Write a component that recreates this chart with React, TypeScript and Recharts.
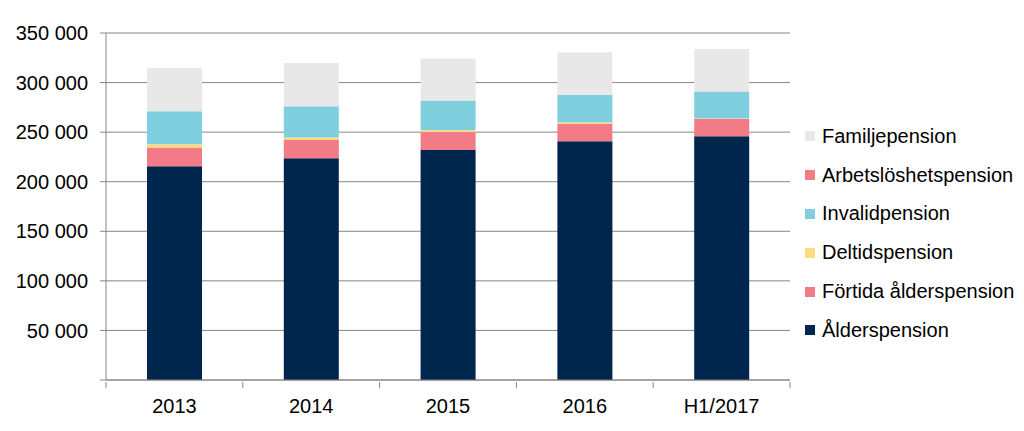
import { Bar, BarChart, CartesianGrid, Legend, XAxis, YAxis } from "recharts"

const years = ["2013", "2014", "2015", "2016", "H1/2017"]
const alderspension = [215500, 223600, 232000, 240800, 245800]
const fortidaAlderspension = [18900, 18500, 18200, 17500, 17400]
const deltidspension = [3300, 2400, 1700, 1400, 500]
const invalidpension = [33400, 31700, 30000, 28000, 27300]
const arbetsloshetspension = [0, 0, 0, 0, 0]
const familjepension = [43500, 43500, 42500, 42900, 42800]
const yTicks = [0, 50000, 100000, 150000, 200000, 250000, 300000, 350000]

const series = [
  { key: "alder", name: "Ålderspension", color: "#00264d", values: alderspension },
  { key: "fortida", name: "Förtida ålderspension", color: "#f27b87", values: fortidaAlderspension },
  { key: "deltid", name: "Deltidspension", color: "#fddc7f", values: deltidspension },
  { key: "invalid", name: "Invalidpension", color: "#80cfde", values: invalidpension },
  { key: "arbetsloshet", name: "Arbetslöshetspension", color: "#f27b87", values: arbetsloshetspension },
  { key: "familj", name: "Familjepension", color: "#e8e8e8", values: familjepension },
]

const data = years.map((year, i) => {
  const row: Record<string, string | number> = { year }
  series.forEach((s) => (row[s.key] = s.values[i]))
  return row
})

const font = "'Liberation Sans', Arial, sans-serif"
const axisColor = "#868686"

const fmt = (v: number) => (v === 0 ? "" : v.toLocaleString("en-US").replace(/,/g, " "))

function XTick(props: any) {
  const { x, y, payload, index, visibleTicksCount } = props
  const half = payload?.offset ?? 68.5
  const count = visibleTicksCount ?? years.length
  return (
    <g>
      <line x1={x - half} x2={x - half} y1={y - 6} y2={y} stroke={axisColor} />
      {index === count - 1 && <line x1={x + half} x2={x + half} y1={y - 6} y2={y} stroke={axisColor} />}
      <text x={x} y={y + 25} textAnchor="middle" fontSize={20} fill="#000" fontFamily={font}>
        {payload.value}
      </text>
    </g>
  )
}

function LegendContent() {
  return (
    <div style={{ fontFamily: font, fontSize: 20, color: "#000", paddingLeft: 15 }}>
      {[...series].reverse().map((s) => (
        <div key={s.key} style={{ display: "flex", alignItems: "center", height: 38.8, whiteSpace: "nowrap" }}>
          <span style={{ width: 10, height: 10, background: s.color, marginRight: 7, display: "inline-block" }} />
          <span>{s.name}</span>
        </div>
      ))}
    </div>
  )
}

export default function App() {
  return (
    <BarChart
      width={1008}
      height={415}
      data={data}
      margin={{ top: 25, right: 0, left: 0, bottom: 0 }}
      barSize={55}
      style={{ fontFamily: font }}
    >
      <CartesianGrid vertical={false} stroke={axisColor} strokeWidth={1} />
      <XAxis
        dataKey="year"
        axisLine={{ stroke: axisColor }}
        tickLine={false}
        height={43}
        tick={<XTick />}
        interval={0}
      />
      <YAxis
        width={98}
        domain={[0, 350000]}
        ticks={yTicks}
        tickFormatter={fmt}
        axisLine={{ stroke: axisColor }}
        tickLine={{ stroke: axisColor }}
        tickSize={6}
        tickMargin={12}
        tick={{ fontSize: 20, fill: "#000", fontFamily: font }}
      />
      <Legend
        layout="vertical"
        align="right"
        verticalAlign="top"
        width={226}
        content={<LegendContent />}
        wrapperStyle={{ top: 109, right: 0 }}
      />
      {series.map((s) => (
        <Bar key={s.key} dataKey={s.key} name={s.name} stackId="a" fill={s.color} isAnimationActive={false} />
      ))}
    </BarChart>
  )
}
